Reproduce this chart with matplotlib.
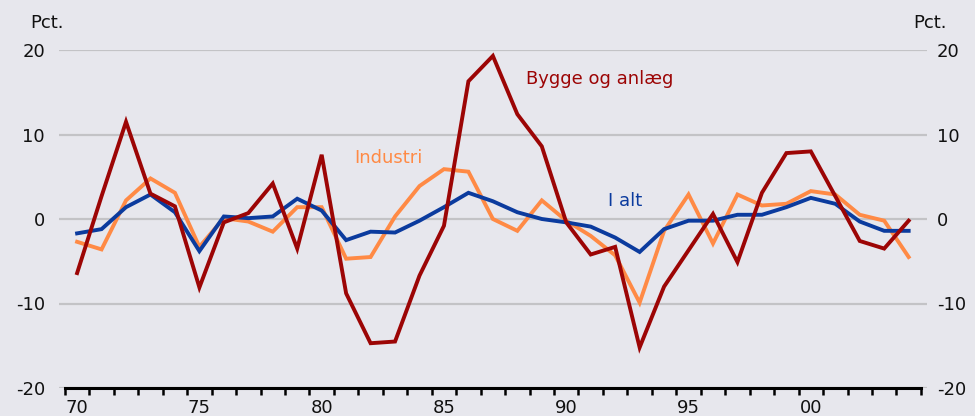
import numpy as np
import matplotlib
matplotlib.use("Agg")
import matplotlib.pyplot as plt

years = np.arange(1970, 2005)

# Årlig vækst, pct.
i_alt = [-1.7, -1.2, 1.4, 2.9, 0.8, -3.8, 0.3, 0.1, 0.3, 2.4,
         1.0, -2.5, -1.5, -1.6, -0.2, 1.4, 3.1, 2.1, 0.8, 0.0,
         -0.4, -0.9, -2.2, -3.9, -1.2, -0.2, -0.2, 0.5, 0.5, 1.4,
         2.5, 1.8, -0.3, -1.4, -1.4]
industri = [-2.7, -3.6, 2.2, 4.8, 3.1, -3.3, 0.1, -0.3, -1.5, 1.4,
            1.4, -4.7, -4.5, 0.3, 3.9, 5.9, 5.6, 0.0, -1.4, 2.2,
            -0.2, -2.0, -4.3, -9.9, -1.4, 2.9, -2.9, 2.9, 1.6, 1.8,
            3.3, 2.9, 0.5, -0.2, -4.5]
bygge = [-6.4, 2.7, 11.5, 3.0, 1.5, -8.1, -0.4, 0.7, 4.2, -3.5,
         7.6, -8.8, -14.7, -14.5, -6.7, -0.8, 16.3, 19.3, 12.4, 8.6,
         -0.4, -4.2, -3.3, -15.2, -8.0, -3.7, 0.6, -5.1, 3.1, 7.8,
         8.0, 2.7, -2.6, -3.5, -0.2]

x_labels = ["70", "75", "80", "85", "90", "95", "00"]
y_ticks = [-20, -10, 0, 10, 20]

bg = "#e7e7ed"
c_blue = "#0b3b9e"
c_orange = "#ff8a45"
c_red = "#9c0505"
fs = 13

plt.rcParams["font.family"] = ["DejaVu Sans"]

fig = plt.figure(figsize=(9.75, 4.16), dpi=100, facecolor=bg)
ax = fig.add_axes([59 / 975, 1 - 388 / 416, (927 - 59) / 975, (388 - 50) / 416])
ax.set_facecolor(bg)

ax.set_xlim(1969.26, 2004.75)
ax.set_ylim(-20, 20)

for v in y_ticks:
    ax.axhline(v, color="#c3c3c6", lw=1.6, zorder=0)

ax.plot(years, i_alt, color=c_blue, lw=2.8, solid_joinstyle="miter", zorder=3)
ax.plot(years, industri, color=c_orange, lw=2.8, solid_joinstyle="miter", zorder=2)
ax.plot(years, bygge, color=c_red, lw=2.8, solid_joinstyle="miter", zorder=4)

for s in ["top", "left", "right"]:
    ax.spines[s].set_visible(False)
ax.spines["bottom"].set_bounds(1969.5, 2004.5)
ax.spines["bottom"].set_linewidth(2.2)
ax.spines["bottom"].set_zorder(5)

# store ticks ved årsskift, etiketter midt i året
ax.set_xticks(np.arange(1969.5, 2005, 1.0))
ax.set_xticklabels([])
ax.tick_params(axis="x", which="major", direction="out", length=5, width=1.8, color="black")
ax.set_xticks(np.arange(1970, 2001, 5), minor=True)
ax.set_xticklabels(x_labels, minor=True)
ax.tick_params(axis="x", which="minor", length=0, pad=8, labelsize=fs, colors="#111111")

ax.set_yticks(y_ticks)
ax.set_yticklabels([str(v) for v in y_ticks])
ax.tick_params(axis="y", length=0, pad=10, labelsize=fs, colors="#111111")

# højre akse
ax2 = ax.twinx()
ax2.set_ylim(ax.get_ylim())
ax2.set_yticks(y_ticks)
ax2.set_yticklabels([str(v) for v in y_ticks])
ax2.tick_params(axis="y", length=0, pad=7, labelsize=fs, colors="#111111")
for s in ax2.spines.values():
    s.set_visible(False)

fig.text(30 / 975, 1 - 23 / 416, "Pct.", fontsize=fs, va="center", ha="left", color="#111111")
fig.text(913 / 975, 1 - 23 / 416, "Pct.", fontsize=fs, va="center", ha="left", color="#111111")

ax.text(1988.35, 16.6, "Bygge og anlæg", color=c_red, fontsize=fs, va="center", ha="left")
ax.text(1981.35, 7.2, "Industri", color=c_orange, fontsize=fs, va="center", ha="left")
ax.text(1991.7, 2.1, "I alt", color=c_blue, fontsize=fs, va="center", ha="left")

fig.savefig("out.png", dpi=100, facecolor=bg)
